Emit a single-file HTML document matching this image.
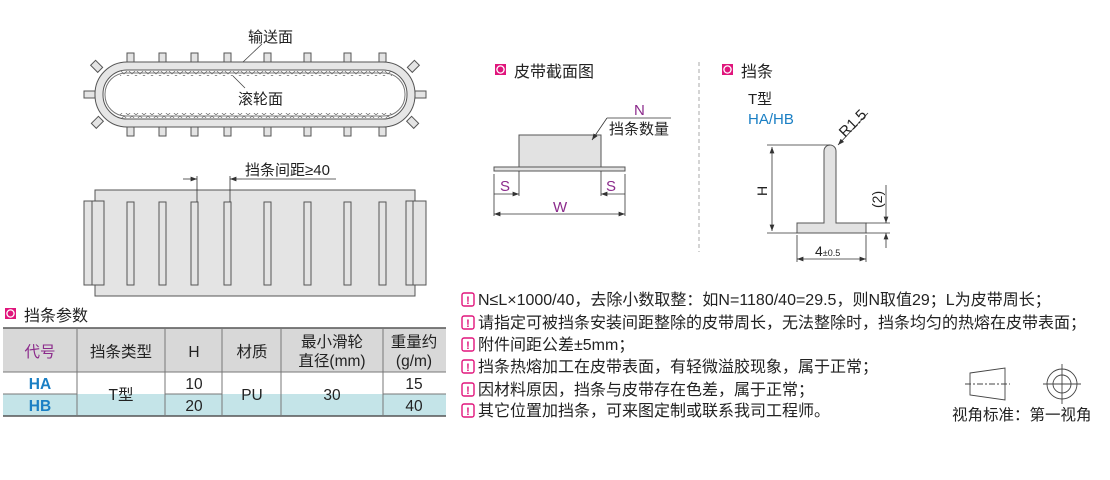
<!DOCTYPE html>
<html><head><meta charset="utf-8"><style>
body{margin:0;width:1110px;height:480px;background:#fff;overflow:hidden;font-family:"Liberation Sans","Noto Sans CJK SC",sans-serif;}
svg{position:absolute;left:0;top:0}
text{font-family:"Liberation Sans","Noto Sans CJK SC",sans-serif;}
</style></head><body>
<svg width="1110" height="480" viewBox="0 0 1110 480">
<defs>
<marker id="a" markerWidth="8" markerHeight="6" refX="8" refY="3" orient="auto-start-reverse"><path d="M0,0 L8,3 L0,6z" fill="#333"/></marker>
<pattern id="zz" x="0" y="0" width="8" height="5" patternUnits="userSpaceOnUse"><path d="M0,0 L4,4 L8,0" fill="none" stroke="#666" stroke-width="0.7"/></pattern>
<pattern id="zz2" x="0" y="0" width="8" height="5" patternUnits="userSpaceOnUse"><path d="M0,5 L4,1 L8,5" fill="none" stroke="#666" stroke-width="0.7"/></pattern>
</defs>
<g stroke="#555" stroke-width="1" fill="#e4e4e4">
<rect x="127" y="53" width="7" height="9"/><rect x="159" y="53" width="7" height="9"/><rect x="191" y="53" width="7" height="9"/><rect x="224" y="53" width="7" height="9"/><rect x="264" y="53" width="7" height="9"/><rect x="304" y="53" width="7" height="9"/><rect x="344" y="53" width="7" height="9"/><rect x="379" y="53" width="7" height="9"/>
<rect x="127" y="127" width="7" height="9"/><rect x="159" y="127" width="7" height="9"/><rect x="191" y="127" width="7" height="9"/><rect x="224" y="127" width="7" height="9"/><rect x="264" y="127" width="7" height="9"/><rect x="304" y="127" width="7" height="9"/><rect x="344" y="127" width="7" height="9"/><rect x="379" y="127" width="7" height="9"/>
<rect x="84" y="91" width="11" height="7"/><rect x="415" y="91" width="11" height="7"/>
<rect x="92" y="63" width="10" height="7" transform="rotate(45 97 66)"/>
<rect x="408" y="63" width="10" height="7" transform="rotate(-45 413 66)"/>
<rect x="92" y="119" width="10" height="7" transform="rotate(-45 97 122)"/>
<rect x="408" y="119" width="10" height="7" transform="rotate(45 413 122)"/>
<rect x="95" y="62" width="320" height="65" rx="32" fill="#e6e6e6"/>
<rect x="103" y="70" width="304" height="49" rx="24" fill="#fff"/>
<rect x="105" y="73" width="300" height="43" rx="21" fill="none" stroke="#777"/>
</g>
<rect x="120" y="71" width="272" height="5" fill="url(#zz)"/>
<rect x="120" y="113" width="272" height="5" fill="url(#zz2)"/>
<line x1="243" y1="62" x2="262" y2="44" stroke="#444" stroke-width="0.8"/>
<line x1="233" y1="76" x2="245" y2="88" stroke="#444" stroke-width="0.8"/>
<text x="248" y="42" font-size="15" fill="#222">输送面</text>
<text x="238" y="104" font-size="15" fill="#222">滚轮面</text>
<g stroke="#555" stroke-width="1" fill="#e4e4e4">
<rect x="95" y="190" width="320" height="106"/>
<rect x="84" y="201" width="13" height="84"/><rect x="92" y="201" width="12" height="84"/>
<rect x="406" y="201" width="12" height="84"/><rect x="413" y="201" width="13" height="84"/>
<rect x="127" y="202" width="7" height="83"/><rect x="159" y="202" width="7" height="83"/><rect x="191" y="202" width="7" height="83"/><rect x="224" y="202" width="7" height="83"/><rect x="264" y="202" width="7" height="83"/><rect x="304" y="202" width="7" height="83"/><rect x="344" y="202" width="7" height="83"/><rect x="379" y="202" width="7" height="83"/>
</g>
<g stroke="#333" stroke-width="0.8">
<line x1="197" y1="176" x2="197" y2="202"/><line x1="230" y1="176" x2="230" y2="202"/>
<line x1="183" y1="179" x2="197" y2="179" marker-end="url(#a)"/><line x1="242" y1="179" x2="230" y2="179" marker-end="url(#a)"/>
<line x1="242" y1="179" x2="336" y2="179"/>
</g>
<text x="245" y="175" font-size="15" fill="#222">挡条间距≥40</text>
<rect x="5" y="308" width="11" height="11" fill="#e0157c"/><circle cx="10.5" cy="313.5" r="3.6" fill="none" stroke="#fff" stroke-width="1.3"/>
<text x="24" y="321" font-size="16" fill="#222">挡条参数</text>
<rect x="3" y="328" width="443" height="44" fill="#d8d8d8"/>
<rect x="3" y="394" width="443" height="22" fill="#c4e4e8"/>
<g stroke="#777" stroke-width="1">
<line x1="3" y1="328" x2="446" y2="328" stroke="#555" stroke-width="1.5"/>
<line x1="3" y1="372" x2="446" y2="372"/>
<line x1="3" y1="394" x2="77" y2="394"/><line x1="165" y1="394" x2="222" y2="394"/><line x1="383" y1="394" x2="446" y2="394"/>
<line x1="3" y1="416" x2="446" y2="416" stroke="#555" stroke-width="1.5"/>
<line x1="77" y1="328" x2="77" y2="416"/><line x1="165" y1="328" x2="165" y2="416"/><line x1="222" y1="328" x2="222" y2="416"/><line x1="281" y1="328" x2="281" y2="416"/><line x1="383" y1="328" x2="383" y2="416"/>
</g>
<g font-size="15.5" fill="#222" text-anchor="middle">
<text x="40" y="357" fill="#8b2a8b">代号</text><text x="121" y="357">挡条类型</text><text x="194" y="357">H</text><text x="252" y="357">材质</text>
<text x="332" y="347">最小滑轮</text><text x="332" y="366">直径(mm)</text><text x="414" y="347">重量约</text><text x="414" y="366">(g/m)</text>
<text x="40" y="389" fill="#1a7fc4" font-weight="bold">HA</text><text x="40" y="411" fill="#1a7fc4" font-weight="bold">HB</text>
<text x="121" y="400">T型</text><text x="194" y="389">10</text><text x="194" y="411">20</text><text x="252" y="400">PU</text><text x="332" y="400">30</text>
<text x="414" y="389">15</text><text x="414" y="411">40</text>
</g>
<rect x="495" y="64" width="11" height="11" fill="#e0157c"/><circle cx="500.5" cy="69.5" r="3.6" fill="none" stroke="#fff" stroke-width="1.3"/>
<text x="514" y="77" font-size="16" fill="#222">皮带截面图</text>
<line x1="699" y1="62" x2="699" y2="252" stroke="#aaa" stroke-dasharray="4,3"/>
<rect x="519" y="135" width="82" height="32" fill="#e2e2e2" stroke="#555"/>
<rect x="494" y="167" width="131" height="4" fill="#e2e2e2" stroke="#555"/>
<g stroke="#333" stroke-width="0.8">
<line x1="494" y1="174" x2="494" y2="216"/><line x1="625" y1="174" x2="625" y2="216"/>
<line x1="519" y1="171" x2="519" y2="196"/><line x1="601" y1="171" x2="601" y2="196"/>
<line x1="494" y1="194" x2="519" y2="194" marker-end="url(#a)"/><line x1="625" y1="194" x2="601" y2="194" marker-end="url(#a)"/>
<line x1="494" y1="214" x2="625" y2="214" marker-start="url(#a)" marker-end="url(#a)"/>
<line x1="607" y1="118" x2="671" y2="118"/><line x1="607" y1="118" x2="592" y2="140" marker-end="url(#a)"/>
</g>
<text x="634" y="115" font-size="15" fill="#8b2a8b">N</text>
<text x="609" y="134" font-size="15" fill="#222">挡条数量</text>
<text x="500" y="191" font-size="15" fill="#8b2a8b">S</text><text x="606" y="191" font-size="15" fill="#8b2a8b">S</text>
<text x="553" y="212" font-size="15" fill="#8b2a8b">W</text>
<rect x="722" y="64" width="11" height="11" fill="#e0157c"/><circle cx="727.5" cy="69.5" r="3.6" fill="none" stroke="#fff" stroke-width="1.3"/>
<text x="741" y="77" font-size="16" fill="#222">挡条</text>
<text x="748" y="104" font-size="15" fill="#222">T型</text>
<text x="748" y="124" font-size="15" fill="#1a7fc4">HA/HB</text>
<path d="M824,223 V151 a6,6 0 0 1 12,0 V223 H866 V233 H797 V223 Z" fill="#e2e2e2" stroke="#555"/>
<g stroke="#333" stroke-width="0.8">
<line x1="767" y1="145" x2="830" y2="145"/><line x1="767" y1="233" x2="797" y2="233"/>
<line x1="772" y1="147" x2="772" y2="231" marker-start="url(#a)" marker-end="url(#a)"/>
<line x1="866" y1="223" x2="890" y2="223"/><line x1="866" y1="233" x2="890" y2="233"/>
<line x1="886" y1="185" x2="886" y2="223" marker-end="url(#a)"/><line x1="886" y1="248" x2="886" y2="233" marker-end="url(#a)"/>
<line x1="797" y1="235" x2="797" y2="262"/><line x1="866" y1="235" x2="866" y2="262"/>
<line x1="797" y1="259" x2="866" y2="259" marker-start="url(#a)" marker-end="url(#a)"/>
<line x1="868" y1="113" x2="838" y2="145" marker-end="url(#a)"/>
</g>
<text transform="translate(767,196) rotate(-90)" font-size="14" fill="#222">H</text>
<text transform="translate(882,208) rotate(-90)" font-size="14" fill="#222">(2)</text>
<text transform="translate(845,138) rotate(-45)" font-size="15" fill="#222">R1.5</text>
<text x="815" y="256" font-size="14" fill="#222">4<tspan font-size="9">±0.5</tspan></text>
<g font-size="16" fill="#222">
<g fill="none" stroke="#e0157c" stroke-width="1.4">
<rect x="462" y="293" width="12" height="13" rx="2"/><rect x="462" y="316" width="12" height="13" rx="2"/><rect x="462" y="338" width="12" height="13" rx="2"/><rect x="462" y="360" width="12" height="13" rx="2"/><rect x="462" y="383" width="12" height="13" rx="2"/><rect x="462" y="404" width="12" height="13" rx="2"/>
</g>
<g fill="#e0157c" font-size="11" font-weight="bold" text-anchor="middle">
<text x="468" y="304">!</text><text x="468" y="327">!</text><text x="468" y="349">!</text><text x="468" y="371">!</text><text x="468" y="394">!</text><text x="468" y="415">!</text>
</g>
<text x="478" y="305">N≤L×1000/40，去除小数取整：如N=1180/40=29.5，则N取值29；L为皮带周长；</text>
<text x="478" y="328">请指定可被挡条安装间距整除的皮带周长，无法整除时，挡条均匀的热熔在皮带表面；</text>
<text x="478" y="350">附件间距公差±5mm；</text>
<text x="478" y="372">挡条热熔加工在皮带表面，有轻微溢胶现象，属于正常；</text>
<text x="478" y="395">因材料原因，挡条与皮带存在色差，属于正常；</text>
<text x="478" y="416">其它位置加挡条，可来图定制或联系我司工程师。</text>
</g>
<g stroke="#444" stroke-width="0.9" fill="none">
<path d="M970,373 L1005,368 V400 L970,395 Z"/>
<line x1="965" y1="384" x2="1010" y2="384" stroke-dasharray="6,2,2,2"/>
<circle cx="1062" cy="384" r="15"/><circle cx="1062" cy="384" r="9"/>
<line x1="1043" y1="384" x2="1081" y2="384"/><line x1="1062" y1="364" x2="1062" y2="404"/>
</g>
<text x="952" y="420" font-size="15.5" fill="#222">视角标准：第一视角</text>
</svg>
</body></html>
